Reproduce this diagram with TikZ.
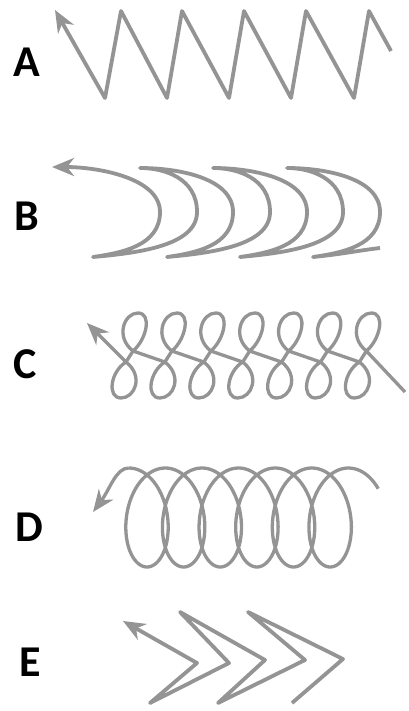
\documentclass[tikz,border=0pt]{standalone}
\usepackage{fontspec}
\setmainfont{Carlito}
\usetikzlibrary{arrows.meta}
\definecolor{lg}{RGB}{148,148,148}
\begin{document}
\begin{tikzpicture}[x=1pt,y=-1pt,
  stroke/.style={draw=lg, line width=3.8pt, line join=round},
  thinstroke/.style={draw=lg, line width=3.3pt, line join=round},
  tipstart/.style={arrows={Stealth[length=22pt,width=18pt,inset=7pt]-}},
  lab/.style={font=\fontsize{44}{44}\selectfont\bfseries, inner sep=0pt, text=black}]
\useasboundingbox (0,0) rectangle (408,711);
\fill[white] (0,0) rectangle (408,711);

% labels
\node[lab] (labA) at (27,62) {A};
\node[lab] (labB) at (27,216) {B};
\node[lab] (labC) at (25,364) {C};
\node[lab] (labD) at (29,527) {D};
\node[lab] (labE) at (30,662) {E};

% A: zigzag
\draw[stroke,tipstart] (55,10) -- (105,98) -- (121,11) -- (167,98) -- (182,11)
  -- (229,98) -- (244,11) -- (291,98) -- (306,11) -- (354,98) -- (369,11) -- (391,51);

% B: crescents
\draw[stroke,tipstart] (52,167) .. controls +(46,0) and +(0,-34) .. (160,212)
 .. controls +(0,34) and +(28,-4) .. (93,257)
 .. controls +(44,-4) and +(0,34) .. (197,212)
 .. controls +(0,-34) and +(24,0) .. (140,168)
 .. controls +(38,0) and +(0,-34) .. (233,212)
 .. controls +(0,34) and +(28,-4) .. (167,257)
 .. controls +(43,-4) and +(0,34) .. (270,212)
 .. controls +(0,-34) and +(24,0) .. (213,168)
 .. controls +(38,0) and +(0,-34) .. (307,212)
 .. controls +(0,34) and +(28,-4) .. (240,257)
 .. controls +(43,-4) and +(0,34) .. (343,212)
 .. controls +(0,-34) and +(23,0) .. (287,168)
 .. controls +(38,0) and +(0,-34) .. (380,212)
 .. controls +(0,34) and +(28,-4) .. (313,257)
 .. controls +(30,-3) and +(-25,3) .. (380,248);

% C: loops
\draw[thinstroke,tipstart] (87,323)
  foreach \k in {0,...,6} {
    -- ({126+38.9*\k},362)
       .. controls ({144+38.9*\k},376) and ({135+38.9*\k},398) .. ({121+38.9*\k},398)
       .. controls ({107+38.9*\k},398) and ({110+38.9*\k},372) .. ({126+38.9*\k},362)
    -- ({133+38.9*\k},351)
       .. controls ({147+38.9*\k},339) and ({152+38.9*\k},313) .. ({138+38.9*\k},313)
       .. controls ({124+38.9*\k},313) and ({115+38.9*\k},337) .. ({133+38.9*\k},351)
  } -- (405,392);

% D: coil
\draw[thinstroke, variable=\t, domain=-3.1416:35.51, samples=500]
  plot ({147+5.83*\t-29.8*sin(\t r)}, {517.5+49.5*cos(\t r)});
\draw[thinstroke,tipstart] (93,512) .. controls (110,489) and (116,468) .. (128.7,468);

% E: chevrons
\draw[stroke,tipstart] (123,621) -- (197,663) -- (150,703) -- (229,663) -- (180,612)
  -- (265,660) -- (218,703) -- (305,660) -- (248,612) -- (343,659) -- (292,703);
\end{tikzpicture}
\end{document}
